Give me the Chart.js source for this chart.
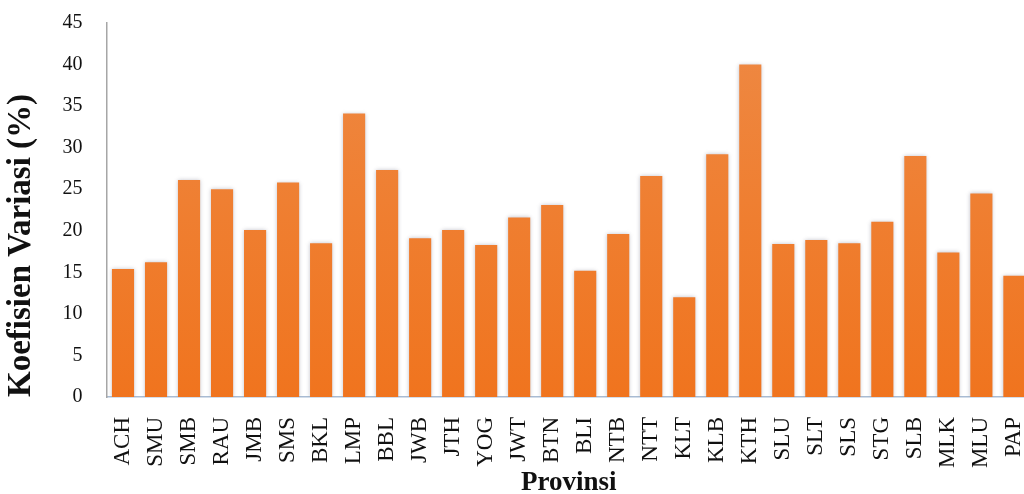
<!DOCTYPE html>
<html>
<head>
<meta charset="utf-8">
<script src="https://cdn.jsdelivr.net/npm/chart.js@4"></script>
<style>
	html, body { margin: 0; padding: 0; background: #fff; overflow: hidden; }
	#clip { width: 1024px; height: 494px; overflow: hidden; position: relative; }
	#wrap { width: 1054px; height: 494px; position: absolute; left: 0; top: 0; }
</style>
</head>
<body>
<div id="clip"><div id="wrap"><canvas id="kvChart"></canvas></div></div>
<script>
	'use strict';

	const provinces = ['ACH', 'SMU', 'SMB', 'RAU', 'JMB', 'SMS', 'BKL', 'LMP', 'BBL', 'JWB',
		'JTH', 'YOG', 'JWT', 'BTN', 'BLI', 'NTB', 'NTT', 'KLT', 'KLB', 'KTH',
		'SLU', 'SLT', 'SLS', 'STG', 'SLB', 'MLK', 'MLU', 'PAP'];
	const kvValues = [15.4, 16.2, 26.1, 25.0, 20.1, 25.8, 18.5, 34.1, 27.3, 19.1,
		20.1, 18.3, 21.6, 23.1, 15.2, 19.6, 26.6, 12.0, 29.2, 40.0,
		18.4, 18.9, 18.5, 21.1, 29.0, 17.4, 24.5, 14.6];
	const yTicks = [0, 5, 10, 15, 20, 25, 30, 35, 40, 45];

	const serif = '"Liberation Serif", "DejaVu Serif", serif';

	function barFill(context) {
		let chart = context.chart;
		let area = chart.chartArea;
		if (!area) return '#ED7D31';
		let g = chart.ctx.createLinearGradient(0, area.top, 0, area.bottom);
		g.addColorStop(0, '#EE8944');
		g.addColorStop(1, '#F0741E');
		return g;
	}

	// soft shadow round the bars, like the office chart
	const barShadow = {
		id: 'barShadow',
		beforeDatasetsDraw(chart) {
			let ctx = chart.ctx;
			ctx.save();
			ctx.shadowColor = 'rgba(120, 120, 140, 0.45)';
			ctx.shadowBlur = 4;
		},
		afterDatasetsDraw(chart) {
			chart.ctx.restore();
		}
	};

	let ctx = document.getElementById('kvChart').getContext('2d');

	let kvChart = new Chart(ctx, {
		type: 'bar',
		data: {
			labels: provinces,
			datasets: [{
				label: 'Koefisien Variasi (%)',
				data: kvValues,
				backgroundColor: barFill,
				borderWidth: 0,
				categoryPercentage: 1.0,
				barPercentage: 0.67
			}]
		},
		options: {
			responsive: true,
			maintainAspectRatio: false,
			animation: false,
			layout: {
				padding: { top: 23, right: 0, left: 0, bottom: 0 }
			},
			plugins: {
				legend: { display: false },
				tooltip: { enabled: false }
			},
			scales: {
				x: {
					afterFit(axis) { axis.height = 97; },
					grid: { display: false },
					border: { display: true, color: '#A9BCD3', width: 1.5 },
					ticks: {
						color: '#111',
						font: { family: serif, size: 23 },
						minRotation: 90,
						maxRotation: 90,
						padding: 12,
						autoSkip: false
					},
					title: {
						display: true,
						text: 'Provinsi',
						color: '#111',
						font: { family: serif, size: 27, weight: 'bold' },
						padding: { top: 0, bottom: -5 }
					}
				},
				y: {
					min: 0,
					max: 45,
					afterBuildTicks(axis) {
						axis.ticks = yTicks.map(v => ({ value: v }));
					},
					afterFit(axis) {
						axis.width = 106.5;
						axis.paddingTop = 0;
						axis.paddingBottom = 0;
					},
					grid: { display: false },
					border: { display: true, color: '#A6A6A6', width: 1.5 },
					ticks: {
						color: '#111',
						font: { family: serif, size: 20 },
						padding: 16
					},
					title: {
						display: true,
						text: 'Koefisien Variasi (%)',
						align: 'start',
						color: '#111',
						font: { family: serif, size: 33, weight: 'bold' },
						padding: { top: 2, bottom: 0 }
					}
				}
			}
		},
		plugins: [barShadow]
	});
</script>
</body>
</html>
